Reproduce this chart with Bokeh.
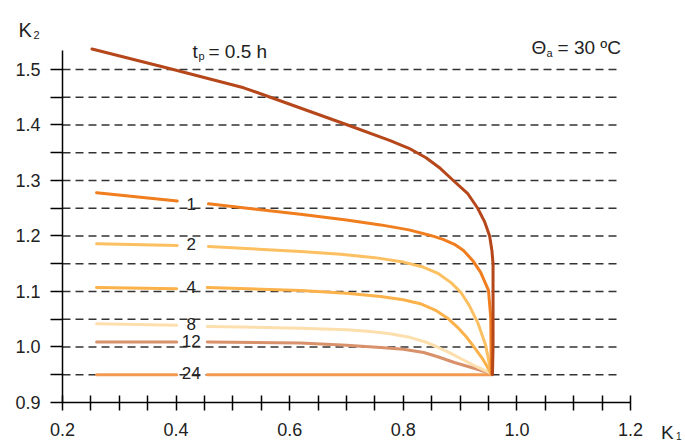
from bokeh.plotting import figure
from bokeh.models import Range1d, LinearAxis, FixedTicker, Label, ColumnDataSource, PrintfTickFormatter
from bokeh.embed import file_html
from bokeh.resources import INLINE

NaN = float("nan")

# ---- data ----
# tp = 0.5 h envelope curve
k1_05 = [0.252, 0.395, 0.519, 0.566, 0.702, 0.777, 0.810, 0.840, 0.865, 0.888, 0.913, 0.931, 0.943, 0.952, 0.956, 0.958, 0.958, 0.957]
k2_05 = [1.537, 1.500, 1.467, 1.450, 1.400, 1.372, 1.358, 1.341, 1.322, 1.300, 1.277, 1.250, 1.226, 1.200, 1.174, 1.150, 1.000, 0.950]

# curves for tp = 1, 2, 4, 8, 12, 24 h (NaN = gap for the curve label)
k1_c1 = [0.260, 0.402, NaN, 0.457, 0.619, 0.700, 0.760, 0.810, 0.848, 0.870, 0.890, 0.906, 0.922, 0.936, 0.950, 0.954, 0.955]
k2_c1 = [1.278, 1.263, NaN, 1.258, 1.239, 1.229, 1.220, 1.211, 1.201, 1.194, 1.185, 1.174, 1.156, 1.135, 1.102, 1.053, 0.952]

k1_c2 = [0.260, 0.402, NaN, 0.457, 0.619, 0.690, 0.750, 0.800, 0.835, 0.862, 0.884, 0.901, 0.916, 0.931, 0.945, 0.955]
k2_c2 = [1.186, 1.183, NaN, 1.181, 1.172, 1.167, 1.161, 1.153, 1.144, 1.132, 1.116, 1.099, 1.075, 1.044, 1.003, 0.952]

k1_c4 = [0.260, 0.401, NaN, 0.455, 0.619, 0.700, 0.760, 0.800, 0.830, 0.857, 0.878, 0.896, 0.912, 0.926, 0.940, 0.955]
k2_c4 = [1.107, 1.105, NaN, 1.107, 1.102, 1.097, 1.091, 1.085, 1.078, 1.066, 1.052, 1.035, 1.017, 0.998, 0.978, 0.952]

k1_c8 = [0.260, 0.401, NaN, 0.455, 0.619, 0.700, 0.742, 0.777, 0.813, 0.839, 0.860, 0.883, 0.905, 0.930, 0.955]
k2_c8 = [1.042, 1.039, NaN, 1.037, 1.034, 1.031, 1.028, 1.024, 1.017, 1.009, 1.000, 0.989, 0.977, 0.964, 0.952]

k1_c12 = [0.260, 0.401, NaN, 0.455, 0.619, 0.700, 0.760, 0.800, 0.836, 0.862, 0.890, 0.920, 0.955]
k2_c12 = [1.009, 1.009, NaN, 1.009, 1.007, 1.003, 0.999, 0.996, 0.990, 0.982, 0.972, 0.963, 0.952]

k1_c24 = [0.260, 0.401, NaN, 0.455, 0.955]
k2_c24 = [0.950, 0.950, NaN, 0.950, 0.950]

curve_labels = ["1", "2", "4", "8", "12", "24"]
curve_label_k2 = [1.258, 1.186, 1.109, 1.041, 1.010, 0.954]
curve_label_k1 = 0.4266

grid_levels = [0.95, 1.0, 1.05, 1.1, 1.15, 1.2, 1.25, 1.3, 1.35, 1.4, 1.45, 1.5]
grid_k1_start = 0.2
grid_k1_end = 1.183

x_major = [0.2, 0.4, 0.6, 0.8, 1.0, 1.2]
x_minor = [0.25, 0.3, 0.35, 0.45, 0.5, 0.55, 0.65, 0.7, 0.75, 0.85, 0.9, 0.95, 1.05, 1.1, 1.15]
y_major = [0.9, 1.0, 1.1, 1.2, 1.3, 1.4, 1.5]
y_minor = [0.95, 1.05, 1.15, 1.25, 1.35, 1.45]

FONT = "Liberation Sans"
TXT = "#222222"

p = figure(width=685, height=444, output_backend="svg", toolbar_location=None,
           x_range=Range1d(0.09085, 1.29683), y_range=Range1d(0.82432, 1.62432),
           x_axis_location=None, y_axis_location=None, min_border=0)
p.outline_line_color = None
p.xgrid.visible = False
p.ygrid.visible = False
p.background_fill_color = "white"
p.border_fill_color = "white"

# dashed horizontal reference lines
p.segment(x0=[grid_k1_start] * len(grid_levels), x1=[grid_k1_end] * len(grid_levels),
          y0=grid_levels, y1=grid_levels, line_color="#333333", line_width=1.5,
          line_dash="8 5")

# axes
xa = LinearAxis(fixed_location=0.9, bounds=(0.2, 1.2),
                ticker=FixedTicker(ticks=x_major, minor_ticks=x_minor),
                formatter=PrintfTickFormatter(format="%.1f"))
xa.axis_line_width = 1.5
xa.axis_line_color = "black"
xa.major_tick_line_width = 1.5
xa.minor_tick_line_width = 1.5
xa.major_tick_in = 7
xa.major_tick_out = 8
xa.minor_tick_in = 7
xa.minor_tick_out = 8
xa.major_label_standoff = 13
xa.major_label_text_font = FONT
xa.major_label_text_font_size = "18px"
xa.major_label_text_color = TXT
p.add_layout(xa, "below")

ya = LinearAxis(fixed_location=0.2, bounds=(0.9, 1.535),
                ticker=FixedTicker(ticks=y_major, minor_ticks=y_minor),
                formatter=PrintfTickFormatter(format="%.1f"))
ya.axis_line_width = 1.5
ya.axis_line_color = "black"
ya.major_tick_line_width = 1.5
ya.minor_tick_line_width = 1.5
ya.major_tick_in = 0
ya.major_tick_out = 12
ya.minor_tick_in = 0
ya.minor_tick_out = 12
ya.major_label_standoff = 10
ya.major_label_text_font = FONT
ya.major_label_text_font_size = "18px"
ya.major_label_text_color = TXT
p.add_layout(ya, "left")

# curves
series = [
    (k1_c24, k2_c24, "#f39a50"),
    (k1_c12, k2_c12, "#d8916b"),
    (k1_c8, k2_c8, "#fddfad"),
    (k1_c4, k2_c4, "#fbb24a"),
    (k1_c2, k2_c2, "#fcc063"),
    (k1_c1, k2_c1, "#f07d1e"),
    (k1_05, k2_05, "#b5471b"),
]
for xs, ys, col in series:
    p.line(xs, ys, line_color=col, line_width=3, line_join="round", line_cap="round")

# curve labels
src = ColumnDataSource(dict(x=[curve_label_k1] * len(curve_labels), y=curve_label_k2, t=curve_labels))
p.text(x="x", y="y", text="t", source=src, text_align="center", text_baseline="middle",
       text_font_size="17px", text_color=TXT, text_font={"value": FONT})

def lab(x, y, t, size):
    p.add_layout(Label(x=x, y=y, text=t, text_font=FONT, text_font_size=size,
                       text_color=TXT, text_align="left", text_baseline="alphabetic"))

# axis titles
lab(0.1225, 1.5712, "K", "20px")
lab(0.1489, 1.5613, "2", "11px")
lab(1.2535, 0.8465, "K", "19px")
lab(1.2800, 0.8390, "1", "10px")

# annotations
lab(0.4289, 1.5324, "t", "19px")
lab(0.4394, 1.5252, "p", "11px")
lab(0.4570, 1.5324, "= 0.5 h", "19px")
lab(1.0257, 1.5405, "\u0398", "19px")
lab(1.0521, 1.5306, "a", "11px")
lab(1.0715, 1.5405, "= 30 \u00baC", "19px")

open("out.html", "w").write(file_html(p, INLINE))
